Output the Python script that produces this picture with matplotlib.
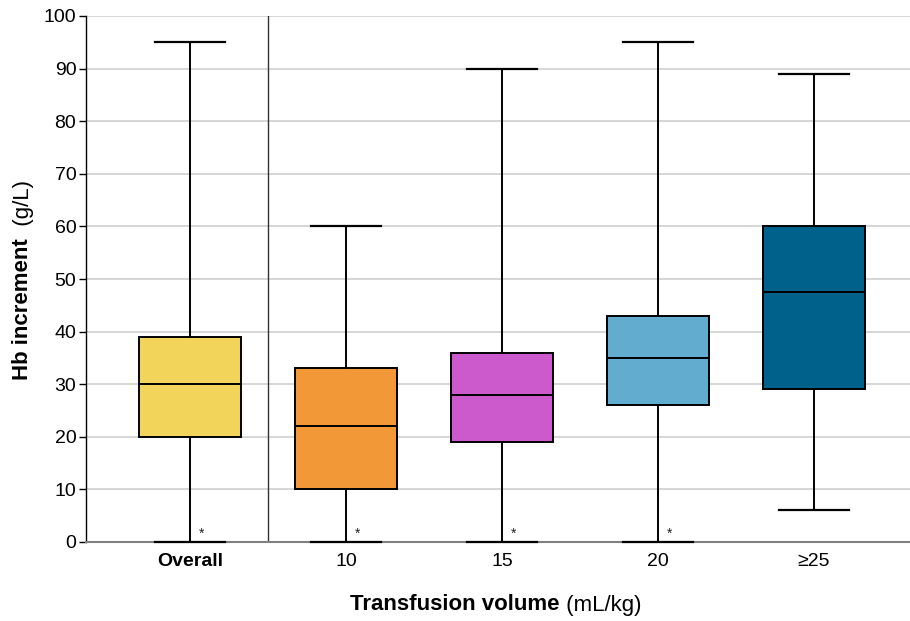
import matplotlib
matplotlib.use("Agg")
import matplotlib.pyplot as plt

plt.rcParams["font.family"] = ["Liberation Sans", "DejaVu Sans"]

# Box summaries (g/L)
groups = ["Overall", "10", "15", "20", "≥25"]
whislo = [0, 0, 0, 0, 6]
q1 = [20, 10, 19, 26, 29]
med = [30, 22, 28, 35, 47.5]
q3 = [39, 33, 36, 43, 60]
whishi = [95, 60, 90, 95, 89]
starred = [True, True, True, True, False]
colors = ["#F2D45A", "#F29837", "#CC5ACC", "#62ACD0", "#00628B"]

fig = plt.figure(figsize=(9.1, 6.21), dpi=100)
ax = fig.add_axes([86 / 910, 1 - 542 / 621, 1 - 86 / 910, (542 - 16) / 621])

stats = []
for i, g in enumerate(groups):
    stats.append(dict(label=g, whislo=whislo[i], q1=q1[i], med=med[i],
                      q3=q3[i], whishi=whishi[i], fliers=[]))

positions = list(range(len(groups)))
bp = ax.bxp(stats, positions=positions, widths=0.65, patch_artist=True,
            showfliers=False,
            boxprops=dict(edgecolor="black", linewidth=1.4),
            medianprops=dict(color="black", linewidth=1.4),
            whiskerprops=dict(color="black", linewidth=1.4),
            capprops=dict(color="black", linewidth=1.6),
            capwidths=0.45)
for patch, c in zip(bp["boxes"], colors):
    patch.set_facecolor(c)
for artist in bp["caps"] + bp["whiskers"]:
    artist.set_clip_on(False)
    artist.set_zorder(4)

# asterisks next to the lower whisker
for i, s in enumerate(starred):
    if s:
        ax.annotate("*", xy=(positions[i], whislo[i]), xytext=(8, 1),
                    textcoords="offset points", ha="center", va="bottom",
                    fontsize=10, color="#222222")

# separator between overall and volume groups
ax.axvline(0.5, color="#333333", linewidth=1.0, zorder=1)

ax.set_xlim(-0.667, 4.615)
ax.set_ylim(0, 100)
ax.set_yticks(range(0, 101, 10))
ax.yaxis.grid(True, color="#d3d3d3", linewidth=1.3)
ax.set_axisbelow(True)

ax.spines["top"].set_visible(False)
ax.spines["right"].set_visible(False)
ax.spines["left"].set_color("black")
ax.spines["left"].set_linewidth(1.0)
ax.spines["bottom"].set_color("#808080")
ax.spines["bottom"].set_linewidth(1.5)

ax.tick_params(axis="y", direction="out", length=5, width=1, labelsize=14,
               colors="black", pad=2)
ax.tick_params(axis="x", length=0, labelsize=14, pad=8)
ax.set_xticks(positions)
ax.set_xticklabels(groups)
ax.get_xticklabels()[0].set_fontweight("bold")

# axis titles: bold part + normal part
t1 = fig.text(350 / 910, 1 - 605 / 621, "Transfusion volume", fontsize=16,
              fontweight="bold", ha="left", va="center")
fig.canvas.draw()
ax.annotate(" (mL/kg)", xy=(1, 0), xycoords=t1, ha="left", va="bottom",
            fontsize=16)

t2 = fig.text(23 / 910, 1 - 380 / 621, "Hb increment", fontsize=16,
              fontweight="bold", rotation=90, ha="center", va="bottom")
ax.annotate("  (g/L)", xy=(0.5, 1), xycoords=t2, ha="center", va="bottom",
            rotation=90, fontsize=16)

fig.savefig("out.png", dpi=100)
